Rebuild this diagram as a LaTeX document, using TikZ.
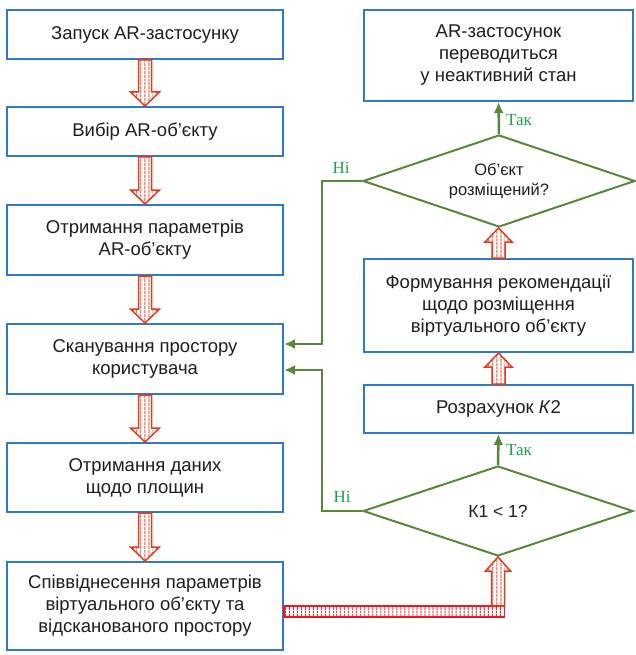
\documentclass[tikz,border=0pt]{standalone}
\usepackage{fontspec}
\setmainfont{Liberation Sans}
\newfontfamily\lblfont{Liberation Serif}
\usetikzlibrary{shapes.geometric,arrows.meta,patterns.meta,calc}
\definecolor{boxblue}{RGB}{46,122,196}
\definecolor{txt}{RGB}{30,30,30}
\definecolor{flowgreen}{RGB}{88,136,56}
\definecolor{lblgreen}{RGB}{30,160,80}
\definecolor{arrred}{RGB}{222,62,30}
\definecolor{barred}{RGB}{228,30,40}
\tikzset{
 box/.style={draw=boxblue, line width=2pt, fill=white, text=txt, align=center,
   font=\fontsize{18.5}{22}\selectfont, inner sep=0pt},
 dia/.style={diamond, draw=flowgreen, line width=2pt, text=txt, align=center,
   inner sep=0pt, aspect=3},
 flow/.style={draw=flowgreen, line width=2.5pt, -{Latex[length=11pt,width=10pt]}},
 lbl/.style={text=lblgreen, font=\lblfont\fontsize{17}{20}\selectfont, inner sep=0pt},
 fat/.style={draw=arrred, line width=1.5pt, line join=miter,
   pattern={Lines[angle=90,distance=4pt,line width=1.1pt]}, pattern color=arrred},
 fatbar/.style={draw=barred, line width=1.5pt,
   pattern={Lines[angle=90,distance=4pt,line width=1.3pt]}, pattern color=barred},
}
\newcommand\fatdown[2]{%
 \path[fat] let \p1=(#1), \p2=(#2) in
 (\x1-6.5pt,\y1) -- (\x1-6.5pt,\y2+14pt) -- (\x1-14.5pt,\y2+14pt) -- (\x1,\y2)
 -- (\x1+14.5pt,\y2+14pt) -- (\x1+6.5pt,\y2+14pt) -- (\x1+6.5pt,\y1) -- cycle;}
\newcommand\fatup[2]{%
 \path[fat] let \p1=(#1), \p2=(#2) in
 (\x1-6.5pt,\y1) -- (\x1-6.5pt,\y2-14pt) -- (\x1-13.5pt,\y2-14pt) -- (\x1,\y2)
 -- (\x1+13.5pt,\y2-14pt) -- (\x1+6.5pt,\y2-14pt) -- (\x1+6.5pt,\y1) -- cycle;}
\begin{document}
\begin{tikzpicture}[x=1pt,y=-1pt]
\useasboundingbox (0,0) rectangle (636,655);
% left column
\node[box, minimum width=276pt, minimum height=49pt] (b1) at (145,34.5) {Запуск AR-застосунку};
\node[box, minimum width=276pt, minimum height=49pt] (b2) at (145,131.5) {Вибір AR-об’єкту};
\node[box, minimum width=276pt, minimum height=70pt] (b3) at (145,240) {Отримання параметрів\\AR-об’єкту};
\node[box, minimum width=276pt, minimum height=70pt] (b4) at (145,359) {Сканування простору\\користувача};
\node[box, minimum width=276pt, minimum height=69pt] (b5) at (145,477.5) {Отримання даних\\щодо площин};
\node[box, minimum width=276pt, minimum height=88pt] (b6) at (145,606) {Співвіднесення параметрів\\віртуального об’єкту та\\відсканованого простору};
% right column
\node[box, minimum width=269pt, minimum height=91pt] (r1) at (498.5,55.5) {AR-застосунок\\переводиться\\у неактивний стан};
\node[box, minimum width=269pt, minimum height=93pt] (r2) at (498.5,305.5) {Формування рекомендації\\щодо розміщення\\віртуального об’єкту};
\node[box, minimum width=269pt, minimum height=48pt] (r3) at (498.5,409) {Розрахунок \textit{К}2};
\node[dia, minimum width=272pt, minimum height=92pt, font=\fontsize{16.5}{20}\selectfont] (d1) at (499,181) {Об’єкт\\розміщений?};
\node[dia, minimum width=270pt, minimum height=90pt, font=\fontsize{17.5}{21}\selectfont] (d2) at (498,511) {К1 < 1?};
% red hollow arrows
\fatdown{b1.south}{b2.north}
\fatdown{b2.south}{b3.north}
\fatdown{b3.south}{b4.north}
\fatdown{b4.south}{b5.north}
\fatdown{b5.south}{b6.north}
\fatup{r3.north}{r2.south}
\fatup{r2.north}{d1.south}
\path[fatbar] let \p1=(b6.east), \p2=(d2.south) in
  (\x1,\y1) rectangle (\x2+6.5pt,\y1-11pt);
\path[fat] let \p1=(b6.east), \p2=(d2.south) in
 (\x2-6.5pt,\y1) -- (\x2-6.5pt,\y2-14pt) -- (\x2-12.5pt,\y2-14pt) -- (\x2,\y2)
 -- (\x2+12.5pt,\y2-14pt) -- (\x2+6.5pt,\y2-14pt) -- (\x2+6.5pt,\y1) -- cycle;
% green connectors
\draw[flow] (d1.north) -- (r1.south);
\draw[flow] (d2.north) -- (r3.south);
\draw[flow] (d1.west) -- ++(-40,0) |- ($(b4.east)+(0,-15)$);
\draw[flow] (d2.west) -- ++(-40,0) |- ($(b4.east)+(0,11)$);
% labels
\node[lbl] (n1) at (341,168) {Ні};
\node[lbl] (n2) at (342,497) {Ні};
\node[lbl, anchor=west] (t1) at (506,120) {Так};
\node[lbl, anchor=west] (t2) at (506,450) {Так};
\end{tikzpicture}
\end{document}
